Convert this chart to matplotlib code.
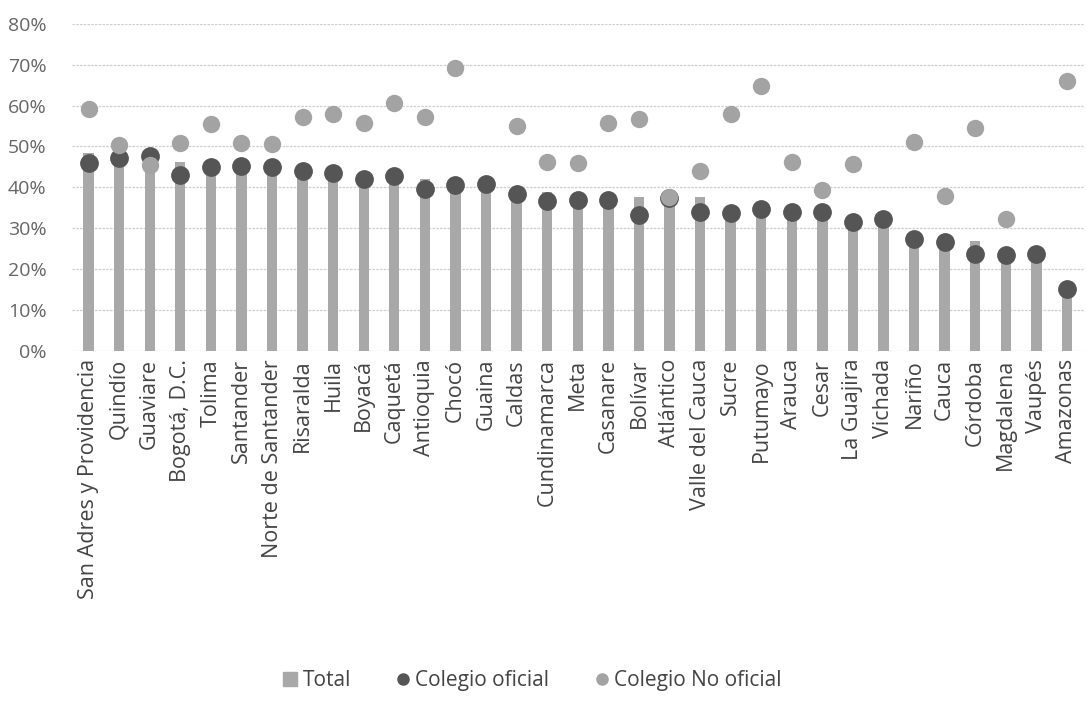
import matplotlib.pyplot as plt
import matplotlib.ticker as mtick
from matplotlib.lines import Line2D
import numpy as np

plt.rcParams['font.family'] = ['Open Sans', 'DejaVu Sans']

departamentos = ["San Adres y Providencia", "Quindío", "Guaviare", "Bogotá, D.C.", "Tolima",
                 "Santander", "Norte de Santander", "Risaralda", "Huila", "Boyacá", "Caquetá",
                 "Antioquia", "Chocó", "Guaina", "Caldas", "Cundinamarca", "Meta", "Casanare",
                 "Bolívar", "Atlántico", "Valle del Cauca", "Sucre", "Putumayo", "Arauca", "Cesar",
                 "La Guajira", "Vichada", "Nariño", "Cauca", "Córdoba", "Magdalena", "Vaupés",
                 "Amazonas"]

total = [48.3, 48.5, 46.0, 46.3, 45.5, 45.5, 45.3, 44.5, 44.0, 42.5, 43.0,
         42.0, 40.8, 41.0, 39.5, 38.8, 37.5, 37.2, 37.5, 37.5, 37.5, 34.5,
         35.0, 34.5, 34.5, 32.0, 32.5, 28.0, 27.0, 26.9, 24.0, 24.0, 15.0]

oficial = [45.9, 47.1, 47.7, 43.0, 45.0, 45.3, 45.0, 44.1, 43.6, 42.0, 42.8,
           39.5, 40.6, 40.7, 38.3, 36.7, 36.9, 36.9, 33.2, 37.3, 33.9, 33.8,
           34.6, 34.0, 34.0, 31.4, 32.2, 27.3, 26.7, 23.7, 23.4, 23.6, 15.0]

# sin dato visible para Guaina, Vichada y Vaupés
no_oficial = [59.2, 50.4, 45.5, 50.9, 55.4, 50.9, 50.5, 57.3, 58.0, 55.8, 60.6,
              57.1, 69.3, np.nan, 55.0, 46.1, 45.9, 55.7, 56.7, 37.7, 44.1, 57.9,
              64.8, 46.1, 39.3, 45.6, np.nan, 51.2, 37.9, 54.4, 32.2, np.nan, 66.0]

x = np.arange(len(departamentos))

fig, ax = plt.subplots(figsize=(10.87, 7.04), dpi=100)
fig.subplots_adjust(left=0.066, right=0.997, top=0.966, bottom=0.502)

ax.bar(x, np.array(total) / 100, width=0.34, color='#a8a8a8', zorder=2)
ax.plot(x, np.array(oficial) / 100, 'o', color='#555555', markersize=12.5, zorder=3)
ax.plot(x, np.array(no_oficial) / 100, 'o', color='#a3a3a3', markersize=11.5, zorder=4)

ax.set_ylim(0, 0.8)
ax.set_xlim(-0.55, len(departamentos) - 0.45)
ax.yaxis.set_major_locator(mtick.MultipleLocator(0.1))
ax.yaxis.set_major_formatter(mtick.PercentFormatter(1.0, decimals=0))
ax.grid(axis='y', color='#cfcfcf', linestyle=(0, (2, 1)), linewidth=0.9, zorder=0)
ax.set_axisbelow(True)

ax.set_xticks(x)
ax.set_xticklabels(departamentos, rotation=90, fontsize=15.5, color='#444444')
ax.tick_params(axis='y', labelsize=14, labelcolor='#666666', length=0, pad=18)
ax.tick_params(axis='x', length=0, pad=6)
for s in ax.spines.values():
    s.set_visible(False)

handles = [Line2D([], [], marker='s', linestyle='none', color='#a8a8a8', markersize=10),
           Line2D([], [], marker='o', linestyle='none', color='#555555', markersize=8),
           Line2D([], [], marker='o', linestyle='none', color='#a3a3a3', markersize=8)]
labels = ['Total', 'Colegio oficial', 'Colegio No oficial']
leg = fig.legend(handles, labels, loc='lower center', bbox_to_anchor=(0.49, -0.008), ncol=3,
                 frameon=False, fontsize=15, handlelength=0.6, handletextpad=0.3,
                 columnspacing=2.2)
for t in leg.get_texts():
    t.set_color('#444444')

plt.savefig('out.png')
